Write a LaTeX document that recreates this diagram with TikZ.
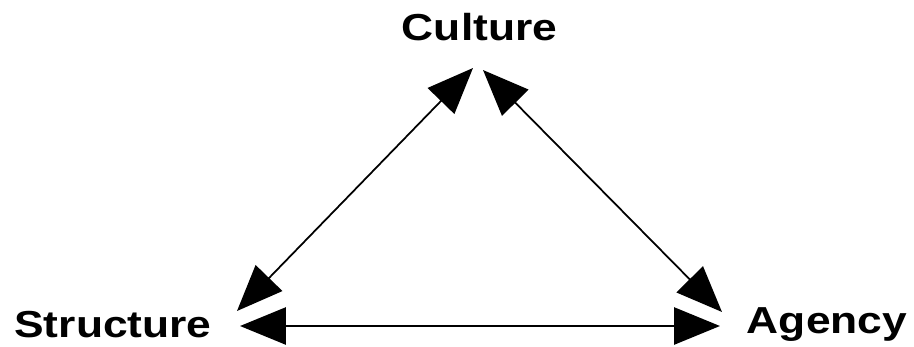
\documentclass[tikz,border=0pt]{standalone}
\usepackage{fontspec}
\setmainfont{Liberation Sans}
\usetikzlibrary{arrows.meta}

\begin{document}
\begin{tikzpicture}[x=0.02cm, y=-0.02cm, >={Triangle[length=0.92cm, width=0.74cm]},
    label/.style={font=\fontsize{21.4}{24}\selectfont\bfseries, anchor=base, inner sep=0pt, xscale=1.18}]
    \useasboundingbox (0,0) rectangle (914,346);

    \node[label] (culture) at (479.5,40) {Culture};
    \node[label] (structure) at (113,337) {Structure};
    \node[label] (agency) at (827,333) {Agency};

    \coordinate (CL) at (473,68);
    \coordinate (CR) at (483,70);
    \coordinate (SU) at (237,311);
    \coordinate (SR) at (240,326);
    \coordinate (AU) at (722,312);
    \coordinate (AL) at (720,326);

    \draw[<->, line width=1pt] (SU) -- (CL);
    \draw[<->, line width=1pt] (CR) -- (AU);
    \draw[<->, line width=1.6pt] (SR) -- (AL);
\end{tikzpicture}
\end{document}
